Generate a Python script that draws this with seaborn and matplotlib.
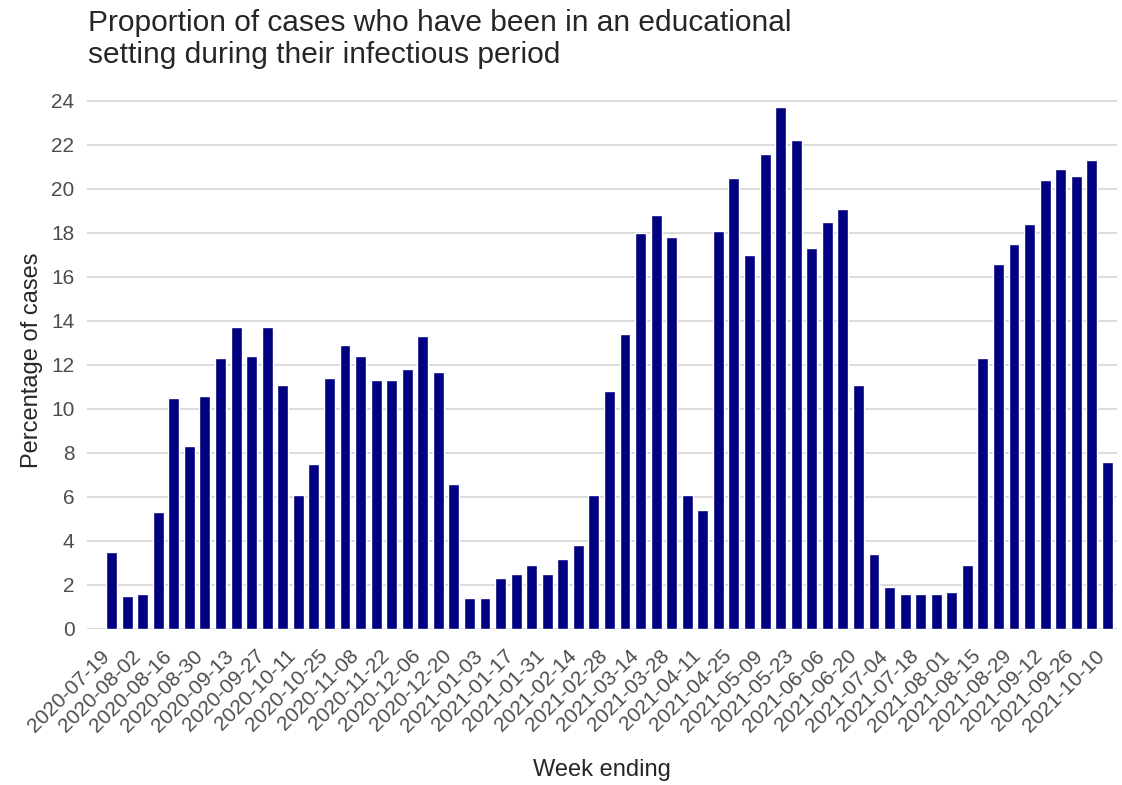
import matplotlib
matplotlib.use('Agg')
import matplotlib.pyplot as plt
import matplotlib.transforms as mtransforms
import seaborn as sns
import pandas as pd

# weekly data, week ending 2020-07-19 .. 2021-10-10
week_ending = pd.date_range('2020-07-19', '2021-10-10', freq='7D').strftime('%Y-%m-%d').tolist()
percentage = [3.5, 1.5, 1.6, 5.3, 10.5, 8.3, 10.6, 12.3, 13.7, 12.4, 13.7, 11.1,
              6.1, 7.5, 11.4, 12.9, 12.4, 11.3, 11.3, 11.8, 13.3, 11.7, 6.6,
              1.4, 1.4, 2.3, 2.5, 2.9, 2.5, 3.2, 3.8, 6.1, 10.8, 13.4, 18.0,
              18.8, 17.8, 6.1, 5.4, 18.1, 20.5, 17.0, 21.6, 23.7, 22.2, 17.3,
              18.5, 19.1, 11.1, 3.4, 1.9, 1.6, 1.6, 1.6, 1.7, 2.9, 12.3, 16.6,
              17.5, 18.4, 20.4, 20.9, 20.6, 21.3, 7.6]

df = pd.DataFrame({'week': week_ending, 'pct': percentage})

sns.set_style('white')
plt.rcParams['font.family'] = ['Liberation Sans', 'DejaVu Sans']

fig = plt.figure(figsize=(11.22, 7.85), dpi=100)
ax = fig.add_axes([87 / 1122, 1 - 629 / 785, (1117 - 87) / 1122, (629 - 92) / 785])

sns.barplot(data=df, x='week', y='pct', color='#000080', width=0.7,
            saturation=1, ax=ax)

ax.set_xlim(-1.58, 64.62)
ax.set_ylim(0, 24.4)
ax.set_yticks(range(0, 25, 2))
ax.yaxis.grid(True, color='#D9D9D9', linewidth=1.3)
ax.set_axisbelow(True)
sns.despine(ax=ax, left=True, bottom=True)

ticks = list(range(0, len(week_ending), 2))
ax.set_xticks(ticks)
ax.set_xticklabels([week_ending[i] for i in ticks], rotation=45, ha='right',
                   rotation_mode='anchor')
ax.tick_params(axis='both', length=0, labelsize=15, labelcolor='#4D4D4D')
ax.tick_params(axis='y', pad=9)
ax.tick_params(axis='x', pad=6)

# nudge the rotated labels down-left like the original
shift = mtransforms.ScaledTranslation(-12 / 100, -9 / 100, fig.dpi_scale_trans)
for lab in ax.get_xticklabels():
    lab.set_transform(lab.get_transform() + shift)

ax.set_xlabel('Week ending', fontsize=17, labelpad=17)
ax.set_ylabel('Percentage of cases', fontsize=17, labelpad=6)

fig.text(88 / 1122, 1 - 9 / 785,
         'Proportion of cases who have been in an educational\n'
         'setting during their infectious period',
         fontsize=21.5, va='top', ha='left', linespacing=1.18)

fig.savefig('out.png', dpi=100)
